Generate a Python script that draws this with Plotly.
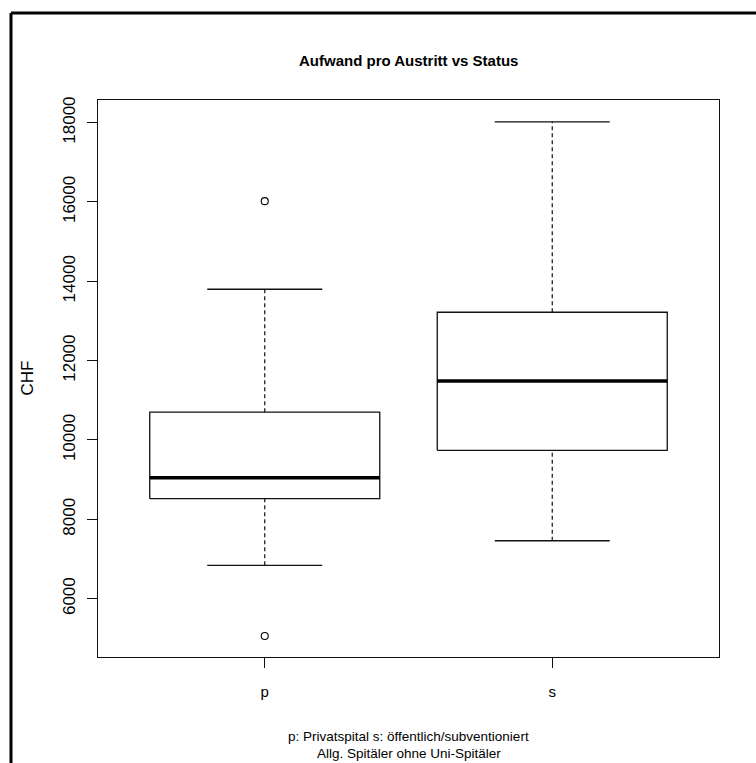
import plotly.graph_objects as go

# ---- data ----
categories = ["p", "s"]
lower_whisker = [6840, 7460]
q1 = [8520, 9740]
median = [9050, 11490]
q3 = [10700, 13220]
upper_whisker = [13800, 18020]
outliers_p = [16020, 5060]
outliers_s = []
y_ticks = [6000, 8000, 10000, 12000, 14000, 16000, 18000]

title_text = "Aufwand pro Austritt vs Status"
y_title = "CHF"
note_1 = "p: Privatspital s: öffentlich/subventioniert"
note_2 = "Allg. Spitäler ohne Uni-Spitäler"

# ---- style ----
BOX_HALF = 0.4
CAP_HALF = 0.2
LINE = "#111111"
REG = "Liberation Sans, Arial, sans-serif"

fig = go.Figure()
outliers = [outliers_p, outliers_s]
for i, cat in enumerate(categories):
    x = i + 1
    # box
    fig.add_trace(go.Scatter(
        x=[x - BOX_HALF, x + BOX_HALF, x + BOX_HALF, x - BOX_HALF, x - BOX_HALF],
        y=[q1[i], q1[i], q3[i], q3[i], q1[i]],
        mode="lines", fill="toself", fillcolor="white",
        line=dict(color=LINE, width=1.3), hoverinfo="skip", showlegend=False))
    # median
    fig.add_trace(go.Scatter(
        x=[x - BOX_HALF, x + BOX_HALF], y=[median[i], median[i]],
        mode="lines", line=dict(color="black", width=3.5), showlegend=False))
    # whiskers (dashed)
    fig.add_trace(go.Scatter(
        x=[x, x], y=[q3[i], upper_whisker[i]], mode="lines",
        line=dict(color=LINE, width=1.2, dash="4px,3px"), showlegend=False))
    fig.add_trace(go.Scatter(
        x=[x, x], y=[lower_whisker[i], q1[i]], mode="lines",
        line=dict(color=LINE, width=1.2, dash="4px,3px"), showlegend=False))
    # caps
    for v in (upper_whisker[i], lower_whisker[i]):
        fig.add_trace(go.Scatter(
            x=[x - CAP_HALF, x + CAP_HALF], y=[v, v], mode="lines",
            line=dict(color=LINE, width=1.3), showlegend=False))
    # outliers
    if outliers[i]:
        fig.add_trace(go.Scatter(
            x=[x] * len(outliers[i]), y=outliers[i], mode="markers",
            marker=dict(symbol="circle-open", size=7, color="black",
                        line=dict(width=1.1)), showlegend=False))

fig.update_layout(
    width=756, height=763,
    margin=dict(l=98, r=37, t=100, b=106),
    paper_bgcolor="white", plot_bgcolor="white",
    showlegend=False,
)
fig.update_xaxes(
    range=[0.42, 2.58], tickmode="array", tickvals=[1, 2], ticktext=categories,
    showgrid=False, zeroline=False, showline=True, mirror=True,
    linecolor=LINE, linewidth=1.3, ticks="outside", ticklen=10,
    tickcolor=LINE, tickwidth=1, ticklabelstandoff=11,
    tickfont=dict(family=REG, size=15, color="black"),
)
fig.update_yaxes(
    range=[4530, 18570], tickmode="array", tickvals=y_ticks,
    ticktext=[str(t) for t in y_ticks], tickangle=-90,
    showgrid=False, zeroline=False, showline=True, mirror=True,
    linecolor=LINE, linewidth=1.3, ticks="outside", ticklen=10,
    tickcolor=LINE, tickwidth=1, ticklabelstandoff=5,
    tickfont=dict(family=REG, size=17, color="black"),
)

fig.add_annotation(text="<b>" + title_text + "</b>", xref="paper", yref="paper",
                   x=0.5, y=1.0718, xanchor="center", yanchor="middle",
                   showarrow=False, font=dict(family=REG, size=15, color="black"))
fig.add_annotation(text=y_title, xref="paper", yref="paper",
                   x=-0.1143, y=0.5, xanchor="center", yanchor="middle", textangle=-90,
                   showarrow=False, font=dict(family=REG, size=17, color="black"))
fig.add_annotation(text=note_1, xref="paper", yref="paper",
                   x=0.5, y=-0.1436, xanchor="center", yanchor="middle",
                   showarrow=False, font=dict(family=REG, size=13.5, color="black"))
fig.add_annotation(text=note_2, xref="paper", yref="paper",
                   x=0.5, y=-0.1733, xanchor="center", yanchor="middle",
                   showarrow=False, font=dict(family=REG, size=13.5, color="black"))

# outer frame (top and left edges visible in the reference)
fig.add_shape(type="line", xref="paper", yref="paper",
              x0=-0.1401, x1=1.3, y0=1.1562, y1=1.1562,
              line=dict(color="black", width=3))
fig.add_shape(type="line", xref="paper", yref="paper",
              x0=-0.1401, x1=-0.1401, y0=1.1562, y1=-0.4,
              line=dict(color="black", width=3))

fig.write_html("out.html")
